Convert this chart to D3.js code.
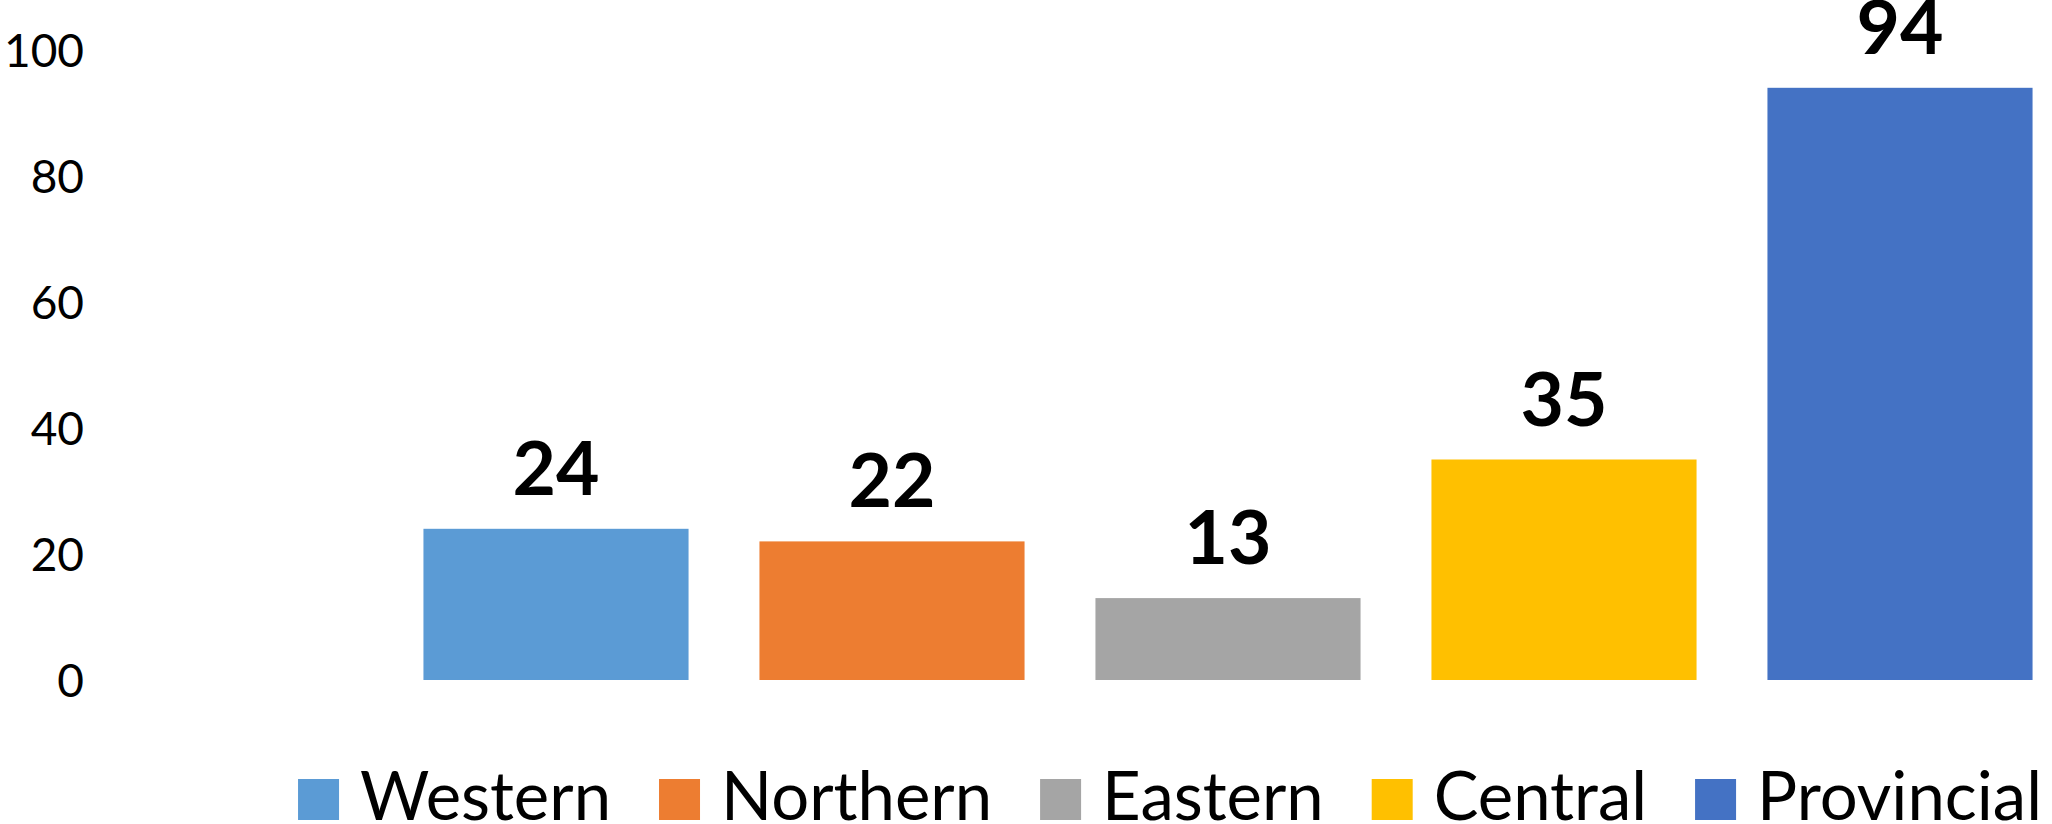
<!DOCTYPE html>
<html>
<head>
<meta charset="utf-8">
<script src="https://cdn.jsdelivr.net/npm/d3@7"></script>
<style>
  body { margin: 0; background: #fff; }
  text { font-family: Lato, "Open Sans", sans-serif; }
</style>
</head>
<body>
<script>

const categories = ['Western', 'Northern', 'Eastern', 'Central', 'Provincial'];
const values = [24, 22, 13, 35, 94];
const colors = ['#5B9BD5', '#ED7D31', '#A5A5A5', '#FFC000', '#4472C4'];
const yTicks = [0, 20, 40, 60, 80, 100];

const width = 2052;
const height = 824;

const svg = d3.select('body')
    .append('svg')
    .attr('width', width)
    .attr('height', height);

const xScale = d3.scaleBand()
    .domain(categories)
    .range([388, 2068])
    .paddingInner(0.211)
    .paddingOuter(0.1055);

const yScale = d3.scaleLinear()
    .domain([0, 100])
    .range([680, 50]);

const yAxis = d3.axisLeft(yScale)
    .tickValues(yTicks)
    .tickSize(0)
    .tickPadding(0);

svg.append('g')
    .attr('transform', 'translate(84,0)')
    .call(yAxis)
    .call(g => g.select('.domain').remove())
    .selectAll('text')
    .style('font-family', 'Lato, sans-serif')
    .style('font-size', '46px')
    .attr('fill', '#000')
    .attr('dy', '0.36em');

svg.selectAll('rect.bar')
    .data(values)
    .enter()
    .append('rect')
    .attr('class', 'bar')
    .attr('x', (d, i) => xScale(categories[i]))
    .attr('y', (d) => yScale(d))
    .attr('width', xScale.bandwidth())
    .attr('height', (d) => yScale(0) - yScale(d))
    .attr('fill', (d, i) => colors[i]);

svg.selectAll('text.value')
    .data(values)
    .enter()
    .append('text')
    .attr('class', 'value')
    .attr('x', (d, i) => xScale(categories[i]) + xScale.bandwidth() / 2)
    .attr('y', (d) => yScale(d) - 34)
    .attr('text-anchor', 'middle')
    .style('font-size', '75px')
    .style('font-weight', 'bold')
    .text((d) => d);

// legend, laid out from measured text widths and centred
const legend = svg.append('g');
const items = legend.selectAll('g')
    .data(categories)
    .enter()
    .append('g');

items.append('rect')
    .attr('width', 41)
    .attr('height', 41)
    .attr('y', 779)
    .attr('fill', (d, i) => colors[i]);

items.append('text')
    .attr('x', 62)
    .attr('y', 820)
    .style('font-size', '67px')
    .text((d) => d);

let pos = 0;
items.each(function() {
    const g = d3.select(this);
    g.attr('transform', 'translate(' + pos + ',0)');
    pos += 62 + g.select('text').node().getComputedTextLength() + 48;
});
const total = pos - 48;
legend.attr('transform', 'translate(' + (1170 - total / 2) + ',0)');

</script>
</body>
</html>
